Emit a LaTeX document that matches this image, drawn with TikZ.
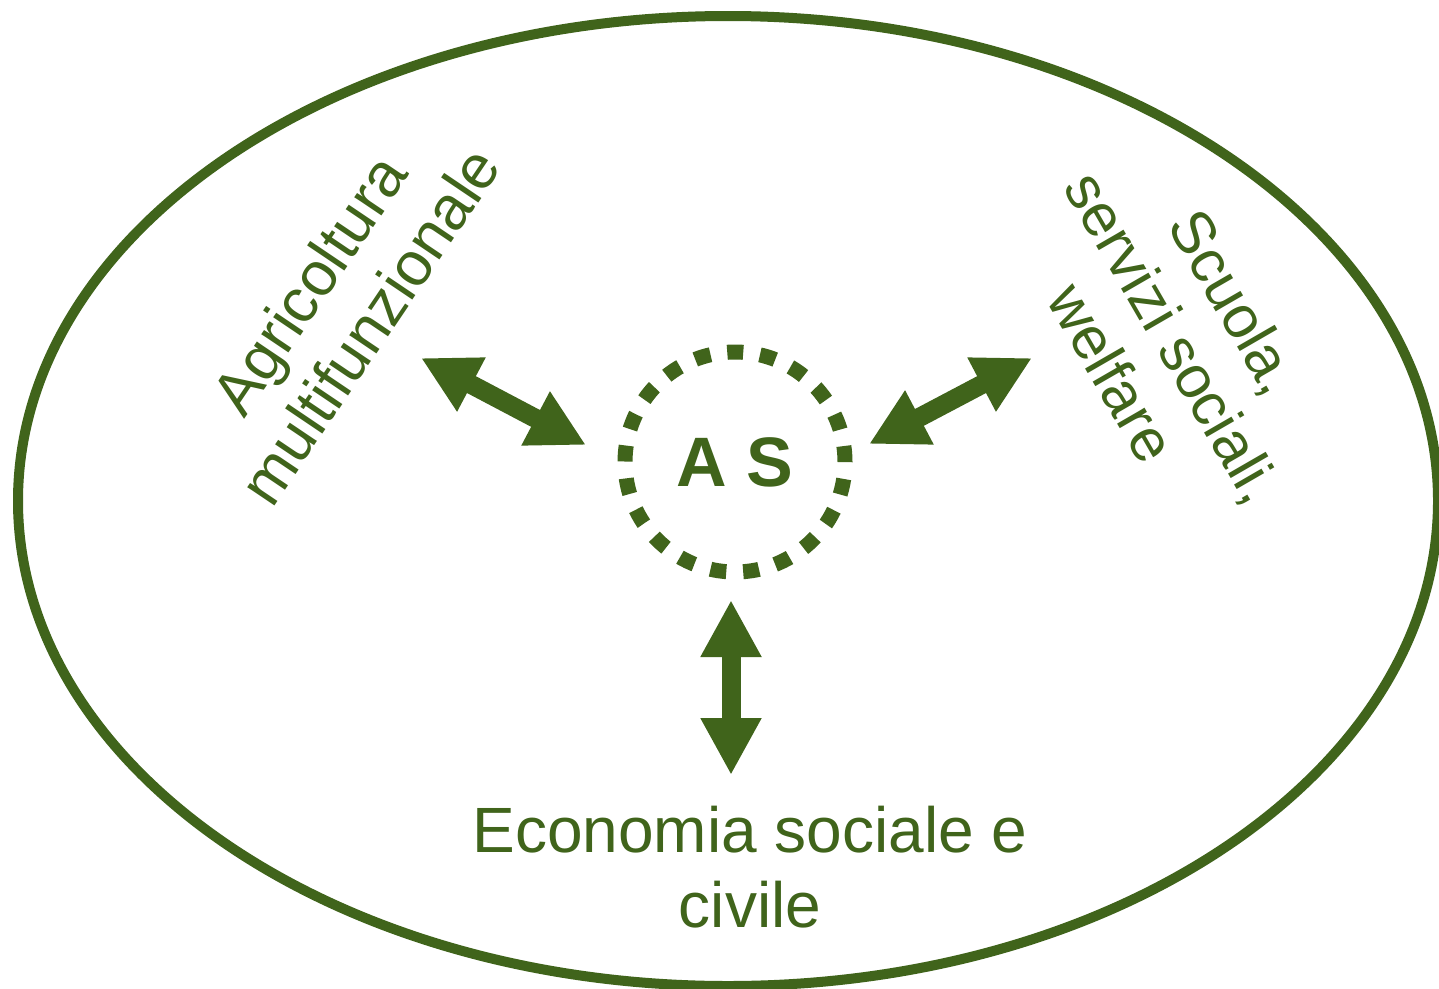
\documentclass[tikz,border=0pt]{standalone}
\usepackage{fontspec}
\setmainfont{Liberation Sans}
\usetikzlibrary{arrows.meta}
\definecolor{gr}{RGB}{64,100,27}
\tikzset{
  lbl/.style={text=gr, align=center, inner sep=0pt, font=\fontsize{62}{73}\selectfont},
  dbl/.style={draw=gr, line width=19pt, {Triangle[length=57pt,width=57pt]}-{Triangle[length=57pt,width=57pt]}},
}
\begin{document}
\begin{tikzpicture}[x=1pt,y=-1pt]
\useasboundingbox (0,0) rectangle (1439,988);
\fill[white] (0,0) rectangle (1439,988);
\draw[gr, line width=10pt] (728,501) ellipse [x radius=710, y radius=485];
\node[circle, draw=gr, line width=15pt, dash pattern=on 16pt off 16.91pt, minimum size=220pt, inner sep=0pt,
      text=gr, font=\fontsize{70}{80}\selectfont\bfseries] (as) at (735,462) {A S};
\node[lbl, rotate=56] (agri) at (339,305) {Agricoltura\\multifunzionale};
\node[lbl, rotate=-60, font=\fontsize{60}{71}\selectfont] (scuola) at (1174,337) {Scuola,\\servizi sociali,\\welfare};
\node[lbl, font=\fontsize{64}{75}\selectfont] (eco) at (750,867) {Economia sociale e\\civile};
\coordinate (la) at (421,358);
\coordinate (lb) at (586,445);
\coordinate (ra) at (1032,358);
\coordinate (rb) at (869,444);
\coordinate (ba) at (731,600);
\coordinate (bb) at (731,775);
\draw[dbl] (la) -- (lb);
\draw[dbl] (rb) -- (ra);
\draw[dbl] (ba) -- (bb);
\end{tikzpicture}
\end{document}
